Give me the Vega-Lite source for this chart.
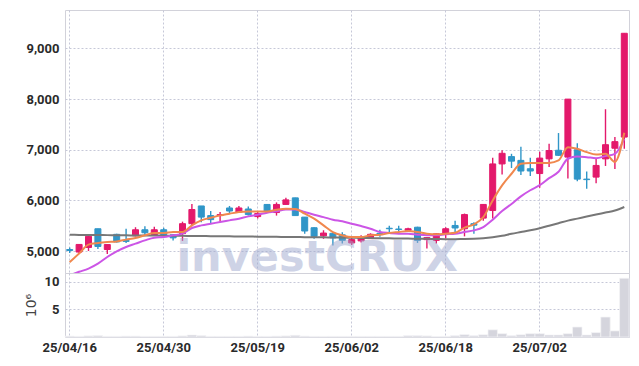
{
  "$schema": "https://vega.github.io/schema/vega-lite/v6.json",
  "background": "white",
  "padding": {"left": 23, "top": 9, "right": 8, "bottom": 5},
  "spacing": 0,
  "bounds": "flush",
  "config": {
    "view": {"stroke": "#d2d2da", "strokeWidth": 1},
    "axis": {
      "labelFont": "Roboto",
      "labelFontSize": 13,
      "labelFontWeight": "bold",
      "labelColor": "#2a2a2a",
      "ticks": false,
      "domain": false,
      "gridColor": "#c6c8d8",
      "gridDash": [2, 2],
      "gridWidth": 1,
      "labelPadding": 6
    }
  },
  "datasets": {
    "px": [
      {"d": "25/04/16", "o": 5030, "h": 5070, "l": 4960, "c": 5010, "m5": 4780, "m10": 4520, "m60": 5320, "v": 0.15},
      {"d": "25/04/17", "o": 4980, "h": 5135, "l": 4960, "c": 5130, "m5": 4950, "m10": 4590, "m60": 5318, "v": 0.1},
      {"d": "25/04/18", "o": 5070, "h": 5300, "l": 5000, "c": 5290, "m5": 5126, "m10": 4653, "m60": 5316, "v": 0.2},
      {"d": "25/04/21", "o": 5440, "h": 5440, "l": 5040, "c": 5090, "m5": 5158, "m10": 4750, "m60": 5315, "v": 0.25},
      {"d": "25/04/22", "o": 5030, "h": 5130, "l": 4940, "c": 5128, "m5": 5178, "m10": 4882, "m60": 5314, "v": 0.1},
      {"d": "25/04/23", "o": 5330, "h": 5340, "l": 5170, "c": 5180, "m5": 5190, "m10": 4994, "m60": 5312, "v": 0.1},
      {"d": "25/04/24", "o": 5210, "h": 5440, "l": 5160, "c": 5190, "m5": 5225, "m10": 5080, "m60": 5310, "v": 0.15},
      {"d": "25/04/25", "o": 5300, "h": 5470, "l": 5290, "c": 5420, "m5": 5257, "m10": 5145, "m60": 5308, "v": 0.15},
      {"d": "25/04/28", "o": 5420, "h": 5490, "l": 5310, "c": 5360, "m5": 5310, "m10": 5211, "m60": 5306, "v": 0.1},
      {"d": "25/04/29", "o": 5310, "h": 5480, "l": 5300, "c": 5420, "m5": 5355, "m10": 5264, "m60": 5305, "v": 0.1},
      {"d": "25/04/30", "o": 5420, "h": 5460, "l": 5260, "c": 5310, "m5": 5355, "m10": 5276, "m60": 5304, "v": 0.1},
      {"d": "25/05/02", "o": 5320, "h": 5330, "l": 5210, "c": 5260, "m5": 5375, "m10": 5310, "m60": 5302, "v": 0.1},
      {"d": "25/05/07", "o": 5345, "h": 5580, "l": 5200, "c": 5540, "m5": 5375, "m10": 5343, "m60": 5300, "v": 0.2},
      {"d": "25/05/08", "o": 5540, "h": 5930, "l": 5490, "c": 5820, "m5": 5507, "m10": 5454, "m60": 5298, "v": 0.35},
      {"d": "25/05/09", "o": 5890, "h": 5890, "l": 5570, "c": 5670, "m5": 5605, "m10": 5507, "m60": 5296, "v": 0.25},
      {"d": "25/05/12", "o": 5700, "h": 5790, "l": 5540, "c": 5620, "m5": 5658, "m10": 5540, "m60": 5294, "v": 0.1},
      {"d": "25/05/13", "o": 5700, "h": 5770, "l": 5580, "c": 5720, "m5": 5704, "m10": 5572, "m60": 5292, "v": 0.1},
      {"d": "25/05/14", "o": 5850, "h": 5890, "l": 5750, "c": 5790, "m5": 5737, "m10": 5605, "m60": 5290, "v": 0.1},
      {"d": "25/05/15", "o": 5770, "h": 5890, "l": 5760, "c": 5850, "m5": 5770, "m10": 5638, "m60": 5288, "v": 0.1},
      {"d": "25/05/16", "o": 5830, "h": 5880, "l": 5700, "c": 5720, "m5": 5783, "m10": 5684, "m60": 5286, "v": 0.15},
      {"d": "25/05/19", "o": 5680, "h": 5770, "l": 5640, "c": 5740, "m5": 5783, "m10": 5717, "m60": 5284, "v": 0.1},
      {"d": "25/05/20", "o": 5920, "h": 5930, "l": 5780, "c": 5780, "m5": 5783, "m10": 5757, "m60": 5282, "v": 0.1},
      {"d": "25/05/21", "o": 5760, "h": 5960, "l": 5700, "c": 5920, "m5": 5816, "m10": 5783, "m60": 5280, "v": 0.15},
      {"d": "25/05/22", "o": 5920, "h": 6050, "l": 5920, "c": 6010, "m5": 5836, "m10": 5822, "m60": 5278, "v": 0.2},
      {"d": "25/05/23", "o": 6050, "h": 6050, "l": 5700, "c": 5700, "m5": 5830, "m10": 5822, "m60": 5276, "v": 0.3},
      {"d": "25/05/26", "o": 5670, "h": 5670, "l": 5340, "c": 5395, "m5": 5737, "m10": 5770, "m60": 5274, "v": 0.15},
      {"d": "25/05/27", "o": 5460, "h": 5470, "l": 5240, "c": 5290, "m5": 5638, "m10": 5717, "m60": 5272, "v": 0.1},
      {"d": "25/05/28", "o": 5300, "h": 5410, "l": 5240, "c": 5355, "m5": 5507, "m10": 5670, "m60": 5270, "v": 0.1},
      {"d": "25/05/29", "o": 5350, "h": 5360, "l": 5110, "c": 5260, "m5": 5375, "m10": 5619, "m60": 5268, "v": 0.1},
      {"d": "25/05/30", "o": 5320, "h": 5370, "l": 5150, "c": 5210, "m5": 5310, "m10": 5586, "m60": 5266, "v": 0.1},
      {"d": "25/06/02", "o": 5160, "h": 5270, "l": 5120, "c": 5225, "m5": 5276, "m10": 5540, "m60": 5262, "v": 0.1},
      {"d": "25/06/04", "o": 5200, "h": 5310, "l": 5170, "c": 5275, "m5": 5276, "m10": 5493, "m60": 5258, "v": 0.1},
      {"d": "25/06/05", "o": 5245, "h": 5350, "l": 5240, "c": 5330, "m5": 5310, "m10": 5441, "m60": 5255, "v": 0.1},
      {"d": "25/06/09", "o": 5350, "h": 5420, "l": 5280, "c": 5340, "m5": 5320, "m10": 5375, "m60": 5252, "v": 0.1},
      {"d": "25/06/10", "o": 5450, "h": 5500, "l": 5370, "c": 5440, "m5": 5355, "m10": 5355, "m60": 5250, "v": 0.1},
      {"d": "25/06/11", "o": 5435, "h": 5500, "l": 5370, "c": 5425, "m5": 5375, "m10": 5343, "m60": 5248, "v": 0.1},
      {"d": "25/06/12", "o": 5410, "h": 5460, "l": 5380, "c": 5440, "m5": 5395, "m10": 5343, "m60": 5245, "v": 0.24},
      {"d": "25/06/13", "o": 5470, "h": 5480, "l": 5160, "c": 5210, "m5": 5375, "m10": 5323, "m60": 5242, "v": 0.24},
      {"d": "25/06/16", "o": 5225, "h": 5270, "l": 5050, "c": 5265, "m5": 5343, "m10": 5310, "m60": 5240, "v": 0.2},
      {"d": "25/06/17", "o": 5210, "h": 5350, "l": 5150, "c": 5340, "m5": 5330, "m10": 5310, "m60": 5238, "v": 0.08},
      {"d": "25/06/18", "o": 5345, "h": 5470, "l": 5245, "c": 5440, "m5": 5343, "m10": 5330, "m60": 5235, "v": 0.1},
      {"d": "25/06/19", "o": 5505, "h": 5600, "l": 5345, "c": 5455, "m5": 5360, "m10": 5340, "m60": 5235, "v": 0.24},
      {"d": "25/06/20", "o": 5440, "h": 5740, "l": 5290, "c": 5720, "m5": 5461, "m10": 5375, "m60": 5236, "v": 0.42},
      {"d": "25/06/23", "o": 5540, "h": 5570, "l": 5340, "c": 5510, "m5": 5527, "m10": 5408, "m60": 5240, "v": 0.24},
      {"d": "25/06/24", "o": 5650, "h": 5930, "l": 5600, "c": 5920, "m5": 5670, "m10": 5474, "m60": 5250, "v": 0.4},
      {"d": "25/06/25", "o": 5800, "h": 6840, "l": 5640, "c": 6720, "m5": 6000, "m10": 5619, "m60": 5270, "v": 1.3},
      {"d": "25/06/26", "o": 6720, "h": 6990, "l": 6510, "c": 6930, "m5": 6296, "m10": 5790, "m60": 5300, "v": 0.6},
      {"d": "25/06/27", "o": 6865, "h": 6920, "l": 6640, "c": 6775, "m5": 6526, "m10": 5930, "m60": 5340, "v": 0.24},
      {"d": "25/06/30", "o": 6790, "h": 7060, "l": 6500, "c": 6580, "m5": 6723, "m10": 6080, "m60": 5375, "v": 0.4},
      {"d": "25/07/01", "o": 6625, "h": 6840, "l": 6480, "c": 6580, "m5": 6736, "m10": 6200, "m60": 5410, "v": 0.6},
      {"d": "25/07/02", "o": 6530, "h": 6960, "l": 6250, "c": 6835, "m5": 6736, "m10": 6300, "m60": 5450, "v": 0.6},
      {"d": "25/07/03", "o": 6820, "h": 7120, "l": 6660, "c": 6985, "m5": 6740, "m10": 6440, "m60": 5500, "v": 0.36},
      {"d": "25/07/04", "o": 6990, "h": 7330, "l": 6880, "c": 6890, "m5": 6789, "m10": 6565, "m60": 5550, "v": 0.36},
      {"d": "25/07/07", "o": 6855, "h": 8000, "l": 6430, "c": 8000, "m5": 7051, "m10": 6822, "m60": 5600, "v": 0.6},
      {"d": "25/07/08", "o": 7000, "h": 7130, "l": 6380, "c": 6420, "m5": 7019, "m10": 6867, "m60": 5640, "v": 1.8},
      {"d": "25/07/09", "o": 6420, "h": 6570, "l": 6230, "c": 6410, "m5": 6953, "m10": 6854, "m60": 5680, "v": 0.36},
      {"d": "25/07/10", "o": 6460, "h": 6820, "l": 6340, "c": 6690, "m5": 6907, "m10": 6834, "m60": 5720, "v": 0.8},
      {"d": "25/07/11", "o": 6820, "h": 7800, "l": 6680, "c": 7100, "m5": 6920, "m10": 6874, "m60": 5760, "v": 3.6},
      {"d": "25/07/14", "o": 7030, "h": 7250, "l": 6620, "c": 7160, "m5": 6760, "m10": 6920, "m60": 5800, "v": 1.1},
      {"d": "25/07/15", "o": 7250, "h": 9300, "l": 7020, "c": 9300, "m5": 7335, "m10": 7216, "m60": 5870, "v": 10.6}
    ]
  },
  "data": {"name": "px"},
  "vconcat": [
    {
      "width": 564,
      "height": 263,
      "encoding": {
        "x": {
          "field": "d",
          "type": "ordinal",
          "sort": null,
          "scale": {"type": "band", "paddingInner": 0, "paddingOuter": 0},
          "axis": {
            "title": null,
            "labels": false,
            "grid": true,
            "bandPosition": 0.5,
            "values": ["25/04/16", "25/04/30", "25/05/19", "25/06/02", "25/06/18", "25/07/02"]
          }
        }
      },
      "layer": [
        {
          "mark": {"type": "rule", "strokeWidth": 1.4},
          "encoding": {
            "y": {
              "field": "l",
              "type": "quantitative",
              "scale": {"domain": [4566, 9760], "zero": false, "nice": false},
              "axis": {"title": null, "grid": true, "values": [5000, 6000, 7000, 8000, 9000], "format": ",d"}
            },
            "y2": {"field": "h"},
            "color": {
              "condition": {"test": "datum.c >= datum.o", "value": "#e3196b"},
              "value": "#3096c8"
            }
          }
        },
        {
          "mark": {"type": "bar", "size": 6, "strokeWidth": 1},
          "encoding": {
            "y": {"field": "o", "type": "quantitative"},
            "y2": {"field": "c"},
            "color": {
              "condition": {"test": "datum.c >= datum.o", "value": "#e3196b"},
              "value": "#3096c8"
            },
            "stroke": {
              "condition": {"test": "datum.c >= datum.o", "value": "#e3196b"},
              "value": "#3096c8"
            }
          }
        },
        {
          "mark": {"type": "line", "color": "#777777", "strokeWidth": 2, "interpolate": "monotone", "clip": true},
          "encoding": {"y": {"field": "m60", "type": "quantitative"}}
        },
        {
          "mark": {"type": "line", "color": "#cc55e6", "strokeWidth": 2, "interpolate": "monotone", "clip": true},
          "encoding": {"y": {"field": "m10", "type": "quantitative"}}
        },
        {
          "mark": {"type": "line", "color": "#f0884e", "strokeWidth": 2, "interpolate": "monotone", "clip": true},
          "encoding": {"y": {"field": "m5", "type": "quantitative"}}
        },
        {
          "data": {"values": [{"t": "investCRUX"}]},
          "mark": {"type": "text", "font": "DejaVu Sans", "fontWeight": "bold", "fontSize": 43, "color": "#9fa9cf", "opacity": 0.5, "align": "center", "baseline": "alphabetic", "dx": 3},
          "encoding": {
            "x": {"datum": "25/05/27"},
            "y": {"datum": 4600},
            "text": {"field": "t"}
          }
        }
      ]
    },
    {
      "width": 564,
      "height": 64,
      "mark": {"type": "bar", "color": "#d5d5dd", "stroke": "#f4f4f6", "strokeWidth": 0.7},
      "encoding": {
        "x": {
          "field": "d",
          "type": "ordinal",
          "sort": null,
          "scale": {"type": "band", "paddingInner": 0, "paddingOuter": 0},
          "axis": {
            "title": null,
            "grid": true,
            "bandPosition": 0.5,
            "labelAngle": 0,
            "labelPadding": 4,
            "values": ["25/04/16", "25/04/30", "25/05/19", "25/06/02", "25/06/18", "25/07/02"]
          }
        },
        "y": {
          "field": "v",
          "type": "quantitative",
          "scale": {"domain": [0, 11.55], "nice": false},
          "axis": {
            "title": "10⁶",
            "titleFont": "DejaVu Sans",
            "titleFontSize": 14,
            "titleFontWeight": "normal",
            "titleColor": "#444444",
            "titlePadding": 6,
            "grid": true,
            "values": [5, 10]
          }
        }
      }
    }
  ]
}
